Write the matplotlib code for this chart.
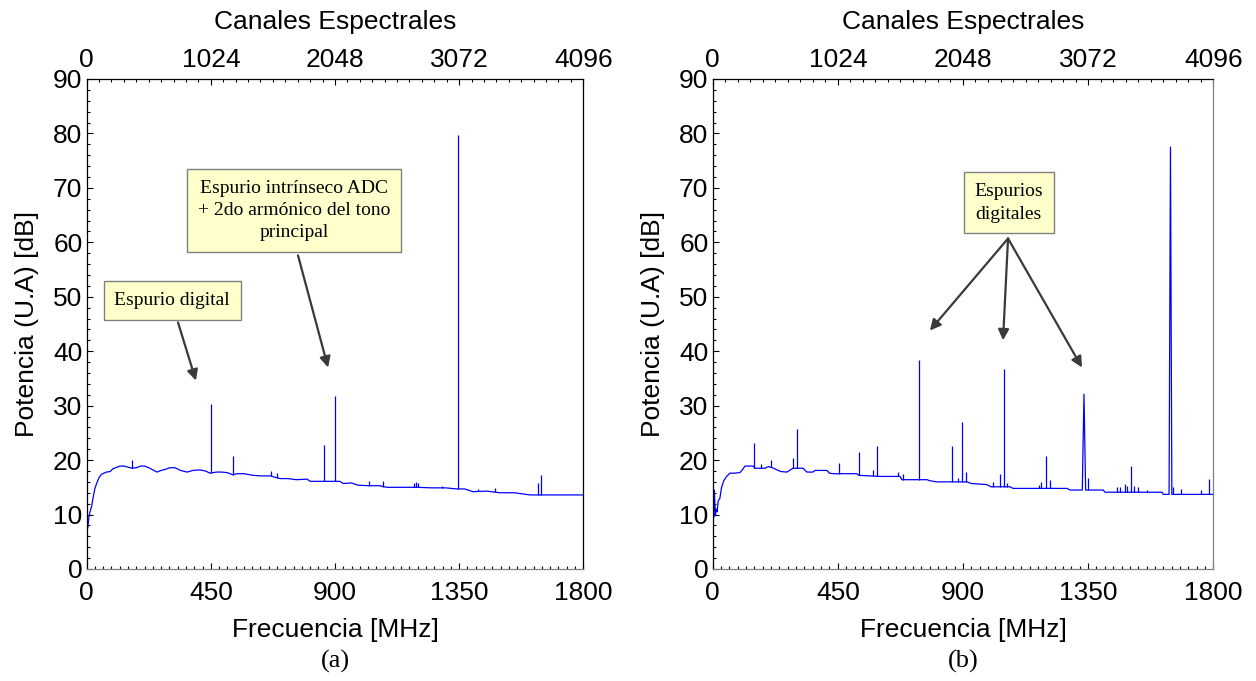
import numpy as np
import matplotlib
matplotlib.use("Agg")
import matplotlib.pyplot as plt
from matplotlib.ticker import MultipleLocator, FixedLocator

plt.rcParams['font.family'] = ['Liberation Sans', 'DejaVu Sans']

# ---- Panel (a): noise floor and spurs ----
floor_a_f = [0, 4, 8, 12, 18, 24, 30, 36, 45, 54, 63, 72, 85, 95, 110, 121, 135, 150,
             165, 180, 195, 210, 225, 240, 255, 270, 285, 302, 320, 340, 364, 385, 411,
             430, 447, 470, 490, 509, 530, 545, 570, 603, 630, 665, 701, 730, 760, 799,
             810, 850, 890, 918, 930, 960, 983, 1020, 1060, 1089, 1150, 1200, 1250, 1300,
             1342, 1370, 1400, 1450, 1498, 1550, 1607, 1650, 1700, 1750, 1800]
floor_a_db = [8.0, 7.5, 9.5, 10.5, 11.5, 13.3, 14.8, 15.7, 16.8, 17.4, 17.6, 17.8, 17.9,
              18.4, 18.7, 18.9, 18.9, 18.7, 18.5, 18.6, 18.9, 18.9, 18.6, 18.2, 17.8, 18.1,
              18.3, 18.6, 18.6, 18.1, 17.8, 18.1, 18.2, 18.0, 17.6, 17.8, 17.8, 17.7, 17.3,
              17.5, 17.5, 17.2, 17.1, 17.1, 16.6, 16.6, 16.4, 16.5, 16.1, 16.1, 16.1, 16.1,
              15.7, 15.8, 15.4, 15.3, 15.3, 15.0, 15.0, 15.0, 14.9, 14.9, 14.7, 14.7, 14.2,
              14.3, 14.0, 14.0, 13.6, 13.6, 13.6, 13.6, 13.6]
spur_a_f = [163, 450, 530, 668, 690, 862, 899, 1025, 1075, 1185, 1192, 1200, 1288,
            1346, 1417, 1480, 1636, 1647]
spur_a_db = [20.0, 30.3, 20.7, 18.0, 17.6, 22.7, 31.8, 16.2, 16.2, 15.8, 16.0, 15.8,
             15.3, 79.8, 14.6, 14.9, 15.8, 17.2]

# ---- Panel (b): noise floor and spurs ----
floor_b_f = [0, 2, 4, 6, 8, 10, 13, 16, 20, 26, 32, 40, 50, 62, 80, 98, 108, 116, 145,
             152, 188, 200, 215, 231, 245, 267, 289, 325, 339, 361, 368, 411, 420, 433,
             519, 525, 602, 674, 680, 771, 781, 806, 914, 930, 986, 1000, 1069, 1080,
             1274, 1285, 1329, 1335, 1341, 1404, 1411, 1616, 1620, 1641, 1646, 1651, 1800]
floor_b_db = [15.0, 11.0, 9.5, 14.5, 12.0, 9.8, 11.0, 10.5, 12.5, 13.0, 15.0, 16.2, 17.0,
              17.6, 17.6, 17.7, 18.3, 18.9, 18.9, 18.5, 18.5, 18.8, 18.6, 18.2, 17.9, 17.8,
              18.5, 18.5, 17.8, 17.8, 18.1, 18.1, 17.6, 17.5, 17.5, 17.2, 17.0, 17.0, 16.4,
              16.4, 16.2, 16.0, 16.0, 15.7, 15.5, 15.1, 15.1, 14.8, 14.8, 14.5, 14.5, 32.1,
              14.5, 14.5, 14.1, 14.1, 13.7, 13.7, 77.5, 13.7, 13.7]
spur_b_f = [150, 173, 209, 288, 302, 453, 525, 576, 591, 665, 685, 743, 859, 881, 895,
            910, 1009, 1033, 1047, 1058, 1173, 1180, 1199, 1213, 1350, 1454, 1465, 1483,
            1490, 1503, 1515, 1530, 1561, 1655, 1685, 1755, 1784]
spur_b_db = [23.2, 19.2, 20.0, 20.3, 25.8, 19.4, 21.4, 18.1, 22.6, 17.8, 17.4, 38.3,
             22.5, 16.7, 27.0, 17.8, 15.9, 17.4, 36.8, 15.8, 15.5, 16.0, 20.7, 16.3, 16.7,
             15.0, 15.0, 15.6, 15.3, 18.9, 15.3, 15.1, 14.5, 15.0, 14.6, 14.5, 16.6]

# Axis ticks
freq_ticks = [0, 450, 900, 1350, 1800]
chan_ticks = [0, 1024, 2048, 3072, 4096]
db_ticks = [0, 10, 20, 30, 40, 50, 60, 70, 80, 90]

FMAX = 1800.0
NCHAN = 4096.0

LINE = '#0000ff'
TICK_FS = 19
LABEL_FS = 19


def to_chan(f):
    return np.asarray(f) * NCHAN / FMAX


def to_freq(c):
    return np.asarray(c) * FMAX / NCHAN


def draw_panel(ax, ff, fdb, sf, sdb, right_color):
    ax.plot(ff, fdb, color=LINE, lw=0.9)
    base = np.interp(sf, ff, fdb)
    ax.vlines(sf, base, sdb, color=LINE, lw=0.9)

    ax.set_xlim(0, FMAX)
    ax.set_ylim(0, 90)
    ax.set_xticks(freq_ticks)
    ax.set_yticks(db_ticks)
    ax.xaxis.set_minor_locator(MultipleLocator(30))
    ax.yaxis.set_minor_locator(MultipleLocator(2))
    ax.tick_params(axis='x', which='both', direction='in', labelsize=TICK_FS,
                   pad=9, top=False)
    ax.tick_params(axis='y', which='both', direction='in', labelsize=TICK_FS,
                   pad=3, right=False)
    ax.tick_params(which='major', length=4, width=0.8)
    ax.tick_params(which='minor', length=2.5, width=0.8)
    ax.set_xlabel('Frecuencia [MHz]', fontsize=LABEL_FS, labelpad=9)
    ax.set_ylabel('Potencia (U.A) [dB]', fontsize=LABEL_FS, labelpad=10)

    for side in ('left', 'top'):
        ax.spines[side].set_color('black')
        ax.spines[side].set_linewidth(0.9)
    ax.spines['bottom'].set_color('#808080')
    ax.spines['bottom'].set_linewidth(0.9)
    ax.spines['right'].set_color(right_color)
    ax.spines['right'].set_linewidth(0.9)

    sec = ax.secondary_xaxis('top', functions=(to_chan, to_freq))
    sec.xaxis.set_major_locator(FixedLocator(chan_ticks))
    sec.xaxis.set_minor_locator(MultipleLocator(102.4))
    sec.tick_params(which='both', direction='in', labelsize=TICK_FS, pad=5)
    sec.tick_params(which='major', length=4, width=0.8)
    sec.tick_params(which='minor', length=2.5, width=0.8)
    sec.spines['top'].set_visible(False)
    sec.set_xlabel('Canales Espectrales', fontsize=LABEL_FS, labelpad=14)
    return sec


BOX = dict(boxstyle='square,pad=0.55', fc='#ffffcc', ec='#808080', lw=1.0)
ARROW = dict(arrowstyle='-|>', color='#3a3a3a', lw=1.6, mutation_scale=16,
             shrinkA=0, shrinkB=0)
SERIF = ['Liberation Serif', 'DejaVu Serif']

fig = plt.figure(figsize=(12.56, 6.81), dpi=100)
ax1 = fig.add_axes([0.069, 0.1645, 0.3954, 0.7195])
ax2 = fig.add_axes([0.5674, 0.1645, 0.3986, 0.7195])

draw_panel(ax1, floor_a_f, floor_a_db, spur_a_f, spur_a_db, 'black')
draw_panel(ax2, floor_b_f, floor_b_db, spur_b_f, spur_b_db, '#808080')

# Annotations, panel (a)
ax1.annotate('', xy=(396, 34.6), xytext=(331, 45.3), arrowprops=ARROW)
ax1.text(310, 49.3, 'Espurio digital', ha='center', va='center',
         fontsize=14, family=SERIF, bbox=BOX, zorder=5)
ax1.annotate('', xy=(875, 37.0), xytext=(766, 57.6), arrowprops=ARROW)
ax1.text(751, 65.8, 'Espurio intrínseco ADC\n+ 2do armónico del tono\nprincipal',
         ha='center', va='center', multialignment='center', fontsize=14,
         family=SERIF, bbox=BOX, zorder=5, linespacing=1.4)

# Annotations, panel (b)
for tip in [(781, 43.8), (1044, 42.0), (1328, 37.0)]:
    ax2.annotate('', xy=tip, xytext=(1062, 60.7), arrowprops=ARROW)
ax2.text(1065, 67.3, 'Espurios\ndigitales', ha='center', va='center',
         multialignment='center', fontsize=14, family=SERIF, bbox=BOX, zorder=5,
         linespacing=1.45)

fig.text(0.267, 0.028, '(a)', ha='center', va='center', fontsize=19, family=SERIF)
fig.text(0.767, 0.028, '(b)', ha='center', va='center', fontsize=19, family=SERIF)

fig.savefig('out.png', dpi=100, facecolor='white')
